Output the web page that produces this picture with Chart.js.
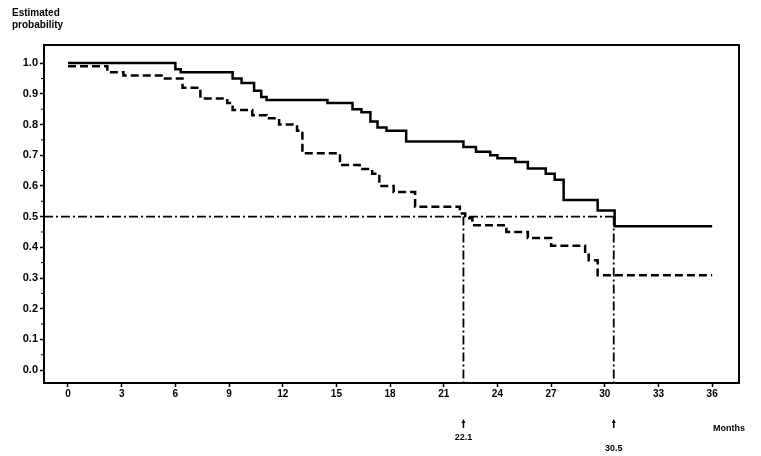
<!DOCTYPE html>
<html><head><meta charset="utf-8">
<script src="https://cdn.jsdelivr.net/npm/chart.js@4"></script>
<style>html,body{margin:0;padding:0;background:#fff}#w{width:761px;height:456px}</style>
</head><body><div id="w"><canvas id="c"></canvas></div>
<script>
const solidX = [0,6.0,6.3,9.2,9.7,10.4,10.8,11.1,14.5,15.9,16.4,16.9,17.3,17.8,18.9,22.1,22.8,23.6,24.0,25.0,25.7,26.7,27.2,27.7,29.6,30.55,36.0];
const solidY = [1.0,0.98,0.97,0.95,0.935,0.91,0.89,0.88,0.87,0.85,0.84,0.81,0.79,0.78,0.745,0.727,0.711,0.70,0.69,0.678,0.657,0.64,0.62,0.554,0.52,0.469,0.469];
const dashX = [0,2.2,3.1,5.3,6.4,7.4,8.9,9.2,10.3,11.1,11.8,12.8,13.1,15.2,16.3,17.0,17.4,18.2,19.4,21.9,22.2,22.6,24.5,25.7,27.0,28.9,29.1,29.6,36.0];
const dashY = [0.99,0.97,0.96,0.95,0.92,0.885,0.87,0.847,0.83,0.82,0.80,0.78,0.706,0.668,0.655,0.64,0.60,0.58,0.532,0.51,0.495,0.472,0.45,0.43,0.405,0.38,0.358,0.309,0.309];
const medians = [22.1, 30.5];
const medianLabels = ['22.1','30.5'];
const xTicks = [0,3,6,9,12,15,18,21,24,27,30,33,36];
const yTicks = [0,0.1,0.2,0.3,0.4,0.5,0.6,0.7,0.8,0.9,1.0];
const XMIN=-1.34, XMAX=37.5, YMIN=-0.042, YMAX=1.059;
const F='"Liberation Sans", Arial, sans-serif';
const pts=(xs,ys)=>xs.map((x,i)=>({x,y:ys[i]}));
const plug={id:'extra',
 afterDatasetsDraw(ch){
  const {ctx,chartArea:a,scales:{x,y}}=ch;
  ctx.save();ctx.strokeStyle='#000';ctx.lineWidth=1.8;ctx.setLineDash([9,3,2,3]);
  ctx.beginPath();ctx.moveTo(a.left,y.getPixelForValue(0.5));ctx.lineTo(x.getPixelForValue(medians[1]),y.getPixelForValue(0.5));
  medians.forEach(m=>{ctx.moveTo(x.getPixelForValue(m),y.getPixelForValue(0.5));ctx.lineTo(x.getPixelForValue(m),a.bottom);});
  ctx.stroke();ctx.setLineDash([]);
  ctx.lineWidth=2;ctx.strokeRect(a.left,a.top,a.right-a.left,a.bottom-a.top);
  ctx.lineWidth=1;ctx.beginPath();
  for(let v=0.05;v<1;v+=0.1){const p=y.getPixelForValue(v);ctx.moveTo(a.left-3,p);ctx.lineTo(a.left,p);}
  ctx.stroke();
  ctx.fillStyle='#000';ctx.font='bold 9px '+F;ctx.textAlign='center';
  medians.forEach((m,i)=>{const px=x.getPixelForValue(m);
    ctx.lineWidth=1.5;ctx.beginPath();ctx.moveTo(px,428);ctx.lineTo(px,422);ctx.stroke();
    ctx.beginPath();ctx.moveTo(px-2,423);ctx.lineTo(px,419);ctx.lineTo(px+2,423);ctx.fill();
    ctx.fillText(medianLabels[i],px,i==0?440:451);});
  ctx.textAlign='left';ctx.fillText('Months',713,431);
  ctx.font='bold 10px '+F;ctx.fillText('Estimated',12,16);ctx.fillText('probability',12,28);
  ctx.restore();}};
new Chart(document.getElementById('c'),{type:'line',
 data:{datasets:[
  {data:pts(solidX,solidY),borderColor:'#000',borderWidth:2.5,stepped:'before',pointRadius:0,fill:false},
  {data:pts(dashX,dashY),borderColor:'#000',borderWidth:2.5,borderDash:[8,4],stepped:'before',pointRadius:0,fill:false}]},
 options:{animation:false,responsive:true,maintainAspectRatio:false,
  layout:{padding:{top:45,right:22,left:0,bottom:0}},
  plugins:{legend:{display:false},tooltip:{enabled:false}},
  scales:{
   x:{type:'linear',min:XMIN,max:XMAX,afterFit:s=>{s.height=73;},
      afterBuildTicks:s=>{s.ticks=xTicks.map(v=>({value:v}));},
      grid:{display:true,drawOnChartArea:false,drawTicks:true,tickLength:4,tickColor:'#000',tickWidth:1.5},
      border:{color:'#000',width:2},
      ticks:{color:'#000',font:{family:F,size:10,weight:'bold'},maxRotation:0,autoSkip:false,padding:1}},
   y:{min:YMIN,max:YMAX,afterFit:s=>{s.width=44;},
      afterBuildTicks:s=>{s.ticks=yTicks.map(v=>({value:v}));},
      grid:{display:true,drawOnChartArea:false,drawTicks:true,tickLength:4,tickColor:'#000',tickWidth:1.5},
      border:{color:'#000',width:2},
      ticks:{color:'#000',font:{family:F,size:11,weight:'bold'},callback:v=>v.toFixed(1),padding:2}}}},
 plugins:[plug]});
</script></body></html>
